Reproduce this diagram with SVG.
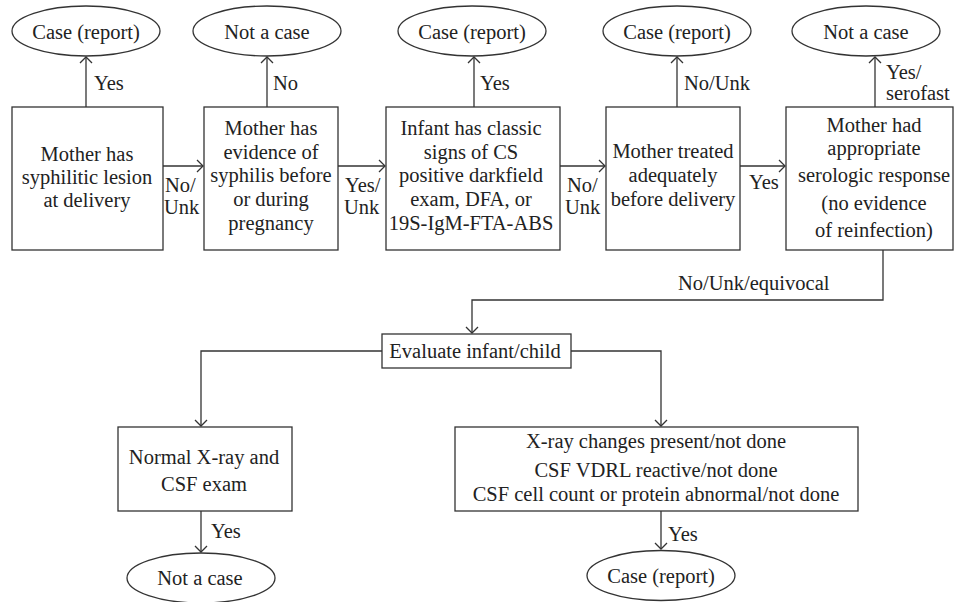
<svg xmlns="http://www.w3.org/2000/svg" width="955" height="602" viewBox="0 0 955 602">
<defs>
<style>
.n{fill:#fff;stroke:#333;stroke-width:1.3}
.c{fill:none;stroke:#333;stroke-width:1.3}
text{font-size:20.5px;fill:#222}
.m{text-anchor:middle}
</style>
<marker id="ah" markerUnits="userSpaceOnUse" markerWidth="14" markerHeight="14" viewBox="-8 -7 10 14" refX="0" refY="0" orient="auto">
<path d="M-6,-6 L0,0 L-6,6" fill="none" stroke="#333" stroke-width="1.3"/>
</marker>
</defs>
<rect width="955" height="602" fill="#fff"/>
<g font-family="'Liberation Serif', 'DejaVu Serif', serif">
<g id="connectors">
<line class="c" x1="86" y1="107" x2="86" y2="57" marker-end="url(#ah)"/>
<line class="c" x1="267" y1="107" x2="267" y2="57" marker-end="url(#ah)"/>
<line class="c" x1="474" y1="107" x2="474" y2="57" marker-end="url(#ah)"/>
<line class="c" x1="677" y1="107" x2="677" y2="57" marker-end="url(#ah)"/>
<line class="c" x1="875" y1="107" x2="875" y2="57" marker-end="url(#ah)"/>
<line class="c" x1="163" y1="166" x2="203" y2="166" marker-end="url(#ah)"/>
<line class="c" x1="338" y1="166" x2="385" y2="166" marker-end="url(#ah)"/>
<line class="c" x1="560" y1="166" x2="605" y2="166" marker-end="url(#ah)"/>
<line class="c" x1="740" y1="166" x2="785" y2="166" marker-end="url(#ah)"/>
<polyline class="c" points="883,250 883,300 472,300 472,333" marker-end="url(#ah)"/>
<polyline class="c" points="382,351 201,351 201,426" marker-end="url(#ah)"/>
<polyline class="c" points="571,351 661,351 661,426" marker-end="url(#ah)"/>
<line class="c" x1="201" y1="511" x2="201" y2="552" marker-end="url(#ah)"/>
<line class="c" x1="661" y1="511" x2="661" y2="549" marker-end="url(#ah)"/>
<text x="94" y="90">Yes</text>
<text x="273" y="90">No</text>
<text x="480" y="90">Yes</text>
<text x="684" y="90">No/Unk</text>
<text x="886" y="79">Yes/</text>
<text x="886" y="100">serofast</text>
<text x="165" y="192">No/</text>
<text x="164" y="214">Unk</text>
<text x="345" y="192">Yes/</text>
<text x="344" y="214">Unk</text>
<text x="567" y="192">No/</text>
<text x="565" y="214">Unk</text>
<text x="749" y="189">Yes</text>
<text x="678" y="290">No/Unk/equivocal</text>
<text x="211" y="538">Yes</text>
<text x="668" y="541">Yes</text>
</g>

<g id="e1"><ellipse class="n" cx="86" cy="31" rx="74" ry="25"/><text class="m" x="86" y="39">Case (report)</text></g>
<g id="e2"><ellipse class="n" cx="267" cy="31" rx="74" ry="25"/><text class="m" x="267" y="39">Not a case</text></g>
<g id="e3"><ellipse class="n" cx="472" cy="31" rx="74" ry="25"/><text class="m" x="472" y="39">Case (report)</text></g>
<g id="e4"><ellipse class="n" cx="677" cy="31" rx="74" ry="25"/><text class="m" x="677" y="39">Case (report)</text></g>
<g id="e5"><ellipse class="n" cx="866" cy="31" rx="74" ry="25"/><text class="m" x="866" y="39">Not a case</text></g>

<g id="b1"><rect class="n" x="12" y="107" width="151" height="143"/>
<text class="m" x="87" y="161">Mother has</text>
<text class="m" x="87" y="184">syphilitic lesion</text>
<text class="m" x="87" y="207">at delivery</text></g>

<g id="b2"><rect class="n" x="204" y="107" width="134" height="143"/>
<text class="m" x="271" y="135">Mother has</text>
<text class="m" x="271" y="159">evidence of</text>
<text class="m" x="271" y="182">syphilis before</text>
<text class="m" x="271" y="206">or during</text>
<text class="m" x="271" y="230">pregnancy</text></g>

<g id="b3"><rect class="n" x="386" y="107" width="174" height="143"/>
<text class="m" x="471" y="135">Infant has classic</text>
<text class="m" x="471" y="159">signs of CS</text>
<text class="m" x="471" y="182">positive darkfield</text>
<text class="m" x="471" y="206">exam, DFA, or</text>
<text class="m" x="471" y="230">19S-IgM-FTA-ABS</text></g>

<g id="b4"><rect class="n" x="606" y="107" width="134" height="143"/>
<text class="m" x="673" y="158">Mother treated</text>
<text class="m" x="673" y="182">adequately</text>
<text class="m" x="673" y="206">before delivery</text></g>

<g id="b5"><rect class="n" x="786" y="107" width="167" height="143"/>
<text class="m" x="874" y="132">Mother had</text>
<text class="m" x="874" y="155">appropriate</text>
<text class="m" x="874" y="182">serologic response</text>
<text class="m" x="874" y="210">(no evidence</text>
<text class="m" x="874" y="237">of reinfection)</text></g>

<g id="eval"><rect class="n" x="382" y="334" width="189" height="34"/>
<text class="m" x="475" y="358">Evaluate infant/child</text></g>

<g id="b6"><rect class="n" x="118" y="427" width="174" height="84"/>
<text class="m" x="204" y="464">Normal X-ray and</text>
<text class="m" x="204" y="491">CSF exam</text></g>

<g id="b7"><rect class="n" x="455" y="427" width="403" height="84"/>
<text class="m" x="656" y="448">X-ray changes present/not done</text>
<text class="m" x="656" y="477">CSF VDRL reactive/not done</text>
<text class="m" x="656" y="501">CSF cell count or protein abnormal/not done</text></g>

<g id="e6"><ellipse class="n" cx="201" cy="578" rx="74" ry="25"/><text class="m" x="200" y="585">Not a case</text></g>
<g id="e7"><ellipse class="n" cx="661" cy="575.5" rx="74" ry="25"/><text class="m" x="661" y="583">Case (report)</text></g>
</g>
</svg>
